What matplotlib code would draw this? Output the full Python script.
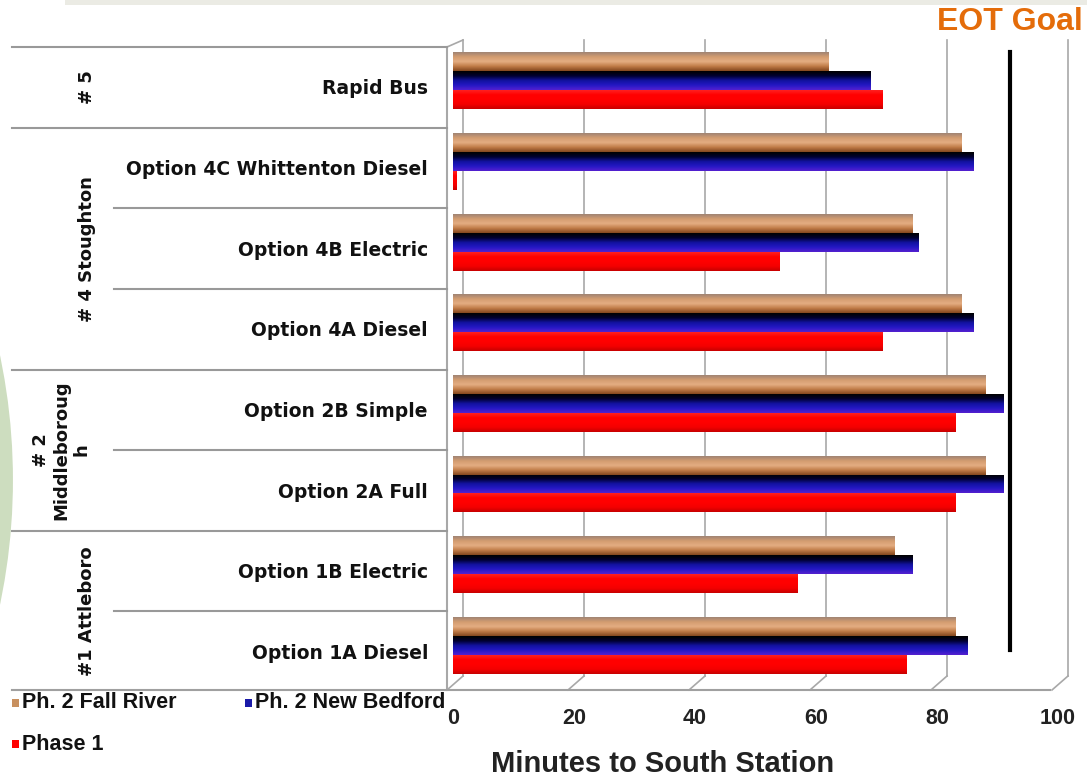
import numpy as np
import matplotlib.pyplot as plt
import matplotlib.patches as mpatches
import matplotlib.transforms as mtransforms
from matplotlib.colors import LinearSegmentedColormap

# options from bottom to top
options = ["Option 1A Diesel", "Option 1B Electric", "Option 2A Full",
           "Option 2B Simple", "Option 4A Diesel", "Option 4B Electric",
           "Option 4C Whittenton Diesel", "Rapid Bus"]
groups = [("#1 Attleboro", 0, 1), ("# 2\nMiddleboroug\nh", 2, 3),
          ("# 4 Stoughton", 4, 6), ("# 5", 7, 7)]

fall_river = [83, 73, 88, 88, 84, 76, 84, 62]
new_bedford = [85, 76, 91, 91, 86, 77, 86, 69]
phase_1 = [75, 57, 83, 83, 71, 54, 0.5, 71]
eot_goal = 92

series_names = ["Ph. 2 Fall River", "Ph. 2 New Bedford", "Phase 1"]
xticks = [0, 20, 40, 60, 80, 100]

W, H = 1087, 779
sans = ["Liberation Sans", "DejaVu Sans"]

shades = {
    "brown": ["#a08474", "#d39c70", "#e4ad82", "#c07c48", "#84481f"],
    "blue": ["#000000", "#000030", "#1212a0", "#2418c4", "#5420d0"],
    "red": ["#ff2020", "#ff0000", "#ff0000", "#f40000", "#c80000"],
}
flat = {"brown": "#c8905f", "blue": "#1a1aa8", "red": "#ff0000"}

fig = plt.figure(figsize=(W / 100, H / 100), dpi=100)
fig.patch.set_facecolor("white")

# overlay in pixel units (y down) for frame lines and decorations
ov = fig.add_axes([0, 0, 1, 1])
ov.set_xlim(0, W)
ov.set_ylim(H, 0)
ov.axis("off")

ax = fig.add_axes([453 / W, (H - 692) / H, 605 / W, 645 / H])
ax.set_xlim(0, 100)
ax.set_ylim(-0.5, 7.5)
ax.axis("off")

# slide decorations
ov.add_patch(mpatches.Rectangle((65, 0), W - 65, 5, color="#ebebe4", lw=0))
ov.add_patch(mpatches.Arc((-594, 480), 1200, 1200, theta1=-17, theta2=17,
                          color="#b8cfa4", lw=10, alpha=0.7))

# back wall gridlines, shifted for depth
back = mtransforms.offset_copy(ax.transData, fig=fig, x=10, y=0, units="dots")
back_x = mtransforms.blended_transform_factory(back, ov.transData)
front_x = mtransforms.blended_transform_factory(ax.transData, ov.transData)
for t in xticks:
    ov.plot([t, t], [40, 676], color="#a8a8a8", lw=1.2, transform=back_x, zorder=1)
    x0 = ax.transData.transform((t, 0))[0]
    ov.plot([x0 - 6, x0 + 10], [690, 676], color="#a8a8a8", lw=1.2, zorder=1)
    ov.text(t, 719, str(t), transform=front_x, ha="center", va="center",
            fontsize=15.5, fontweight="bold", family=sans, color="#222222")
ov.plot([447, 463], [47, 40], color="#a8a8a8", lw=1.2)
ov.plot([447, 447], [47, 690], color="#a8a8a8", lw=1.5)
ov.plot([12, 1050], [690, 690], color="#a0a0a0", lw=1.5)

# category table on the left
lab_tr = mtransforms.blended_transform_factory(ov.transData, ax.transData)
for b in [7.5, 6.5, 3.5, 1.5]:
    ov.plot([12, 447], [b, b], color="#999999", lw=1.5, transform=lab_tr)
for b in [5.5, 4.5, 2.5, 0.5]:
    ov.plot([114, 447], [b, b], color="#999999", lw=1.5, transform=lab_tr)
for i, name in enumerate(options):
    ov.text(428, i - 0.02, name, transform=lab_tr, ha="right", va="center",
            fontsize=13.5, fontweight="bold", color="#111111")
for name, lo, hi in groups:
    xpos = 61 if "\n" in name else 87
    ov.text(xpos, (lo + hi) / 2, name, transform=lab_tr, rotation=90,
            ha="center", va="center", fontsize=13, fontweight="bold",
            linespacing=1.15, multialignment="center", color="#111111")

# bars with shaded fill
h = 0.235
ypos = np.arange(len(options)) + 0.08
for k, (vals, key) in enumerate(zip([fall_river, new_bedford, phase_1],
                                    ["brown", "blue", "red"])):
    yy = ypos + (1 - k) * h
    bars = ax.barh(yy, vals, height=h, color=flat[key], lw=0, zorder=3)
    cmap = LinearSegmentedColormap.from_list(key, shades[key])
    grad = np.linspace(0, 1, 64).reshape(-1, 1)
    for rect in bars:
        x0, y0 = rect.get_x(), rect.get_y()
        im = ax.imshow(grad, cmap=cmap, aspect="auto", origin="upper",
                       extent=(x0, x0 + rect.get_width(), y0, y0 + rect.get_height()),
                       zorder=4, interpolation="bilinear")
        im.set_clip_path(rect)
ax.set_xlim(0, 100)
ax.set_ylim(-0.5, 7.5)

# goal line
ax.axvline(eot_goal, ymin=(692 - 650) / 645, ymax=(692 - 52) / 645,
           color="black", lw=3, zorder=5)
goal_tr = mtransforms.blended_transform_factory(ax.transData, ov.transData)
ov.text(eot_goal, 22, "EOT Goal", transform=goal_tr, ha="center", va="center",
        fontsize=23, fontweight="bold", family=sans, color="#e46c0a")

# legend
legend_pos = [(12, 703), (245, 703), (12, 744)]
for (lx, ly), name, key in zip(legend_pos, series_names, ["brown", "blue", "red"]):
    ov.add_patch(mpatches.Rectangle((lx, ly - 4), 7, 8, color=flat[key], lw=0))
    ov.text(lx + 10, ly, name, ha="left", va="center", fontsize=15.5,
            fontweight="bold", family=sans, color="#111111")

fig.text(663 / W, 1 - 764 / H, "Minutes to South Station", ha="center",
         va="center", fontsize=21, fontweight="bold", family=sans,
         color="#222222")

fig.savefig("out.png", dpi=100)
